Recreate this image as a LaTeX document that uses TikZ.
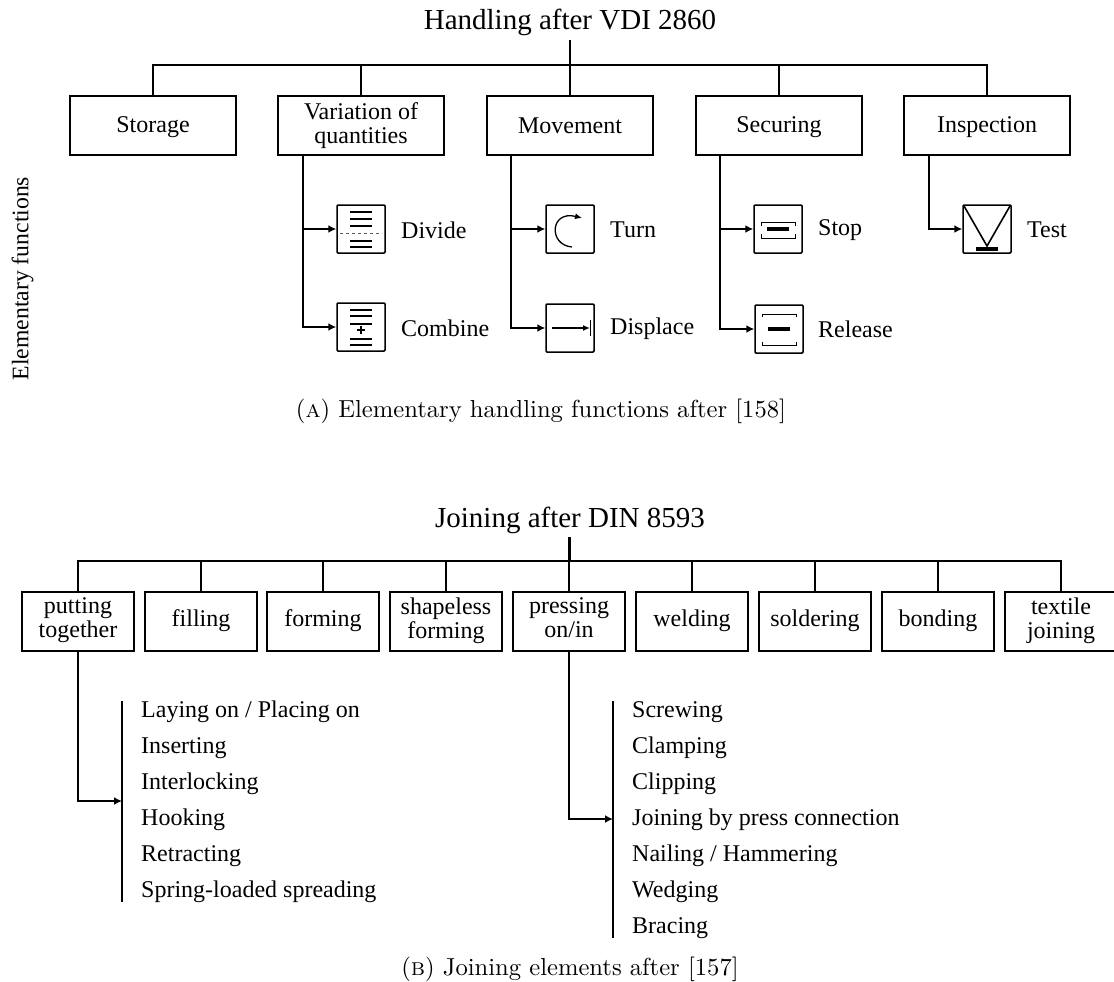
\documentclass[tikz,border=0pt]{standalone}
\usepackage{fontspec}
\newfontfamily\timesfont{Liberation Serif}
\newcommand{\funcstrut}{\rule[-4.5pt]{0pt}{24pt}}
\newcommand{\joinstrut}{\rule[-7pt]{0pt}{24pt}}
\newcommand{\itemstrut}{\rule[-6.5pt]{0pt}{27pt}}
\usetikzlibrary{arrows.meta,positioning}

\begin{document}
\begin{tikzpicture}[
    x=1pt, y=-1pt,
    heading/.style={font=\timesfont\fontsize{29}{31}\selectfont},
    funcbox/.style={draw, line width=1.8pt, minimum width=166pt, minimum height=59pt, align=center,
                    inner sep=0pt, font=\timesfont\fontsize{24}{24}\selectfont,
                    execute at begin node=\funcstrut, execute at end node=\funcstrut},
    joinbox/.style={draw, line width=1.8pt, minimum width=112pt, minimum height=59pt, align=center,
                    inner sep=0pt, font=\timesfont\fontsize{24}{24}\selectfont,
                    execute at begin node=\joinstrut, execute at end node=\joinstrut},
    iconbox/.style={draw, line width=1.5pt, minimum size=48pt, inner sep=0pt, rounded corners=1pt},
    itemtext/.style={anchor=west, inner sep=0pt, font=\timesfont\fontsize{24}{27}\selectfont,
                     execute at begin node=\itemstrut},
    captext/.style={scale=2.46, font=\fontsize{10}{12}\selectfont},
    bar/.style={line width=2pt},
    barthin/.style={line width=1.2pt, gray!70!black},
    tree/.style={line width=1.8pt},
    branch/.style={line width=1.8pt, -{Latex[length=8pt,width=8pt]}}
  ]
  \useasboundingbox (0,0) rectangle (1114,982);

  % handling heading
  \node[heading] (handling) at (570,22) {Handling after VDI 2860};
  \coordinate (handlingbus) at (570,65);

  % handling boxes
  \node[funcbox] (storage)  at (153,125.5) {Storage};
  \node[funcbox] (quantity) at (361,125.5) {Variation of\\quantities};
  \node[funcbox] (movement) at (570,125.5) {Movement};
  \node[funcbox] (securing) at (779,125.5) {Securing};
  \node[funcbox] (inspection) at (987,125.5) {Inspection};

  % handling tree
  \draw[tree] (handling.south |- 0,40) -- (handlingbus);
  \foreach \boxname in {storage,quantity,movement,securing,inspection}
    \draw[tree] (handlingbus) -| (\boxname.north);

  % icons
  \node[iconbox] (divide)   at (361,229) {};
  \node[iconbox] (combine)  at (361,327) {};
  \node[iconbox] (turn)     at (570,229) {};
  \node[iconbox] (displace) at (570,328) {};
  \node[iconbox] (stopicon) at (778,229) {};
  \node[iconbox] (release)  at (779,329) {};
  \node[iconbox] (testicon) at (987,229) {};

  % icon labels
  \node[itemtext] (dividetext)   at (401,231) {Divide};
  \node[itemtext] (combinetext)  at (401,329) {Combine};
  \node[itemtext] (turntext)     at (610,230) {Turn};
  \node[itemtext] (displacetext) at (610,327) {Displace};
  \node[itemtext] (stoptext)     at (818,228) {Stop};
  \node[itemtext] (releasetext)  at (818,330) {Release};
  \node[itemtext] (testtext)     at (1027,230) {Test};

  % branches
  \coordinate (quantityfoot)   at (303,155);
  \coordinate (movementfoot)   at (511,155);
  \coordinate (securingfoot)   at (720,155);
  \coordinate (inspectionfoot) at (929,155);
  \draw[branch] (quantityfoot) |- (divide.west);
  \draw[branch] (quantityfoot) |- (combine.west);
  \draw[branch] (movementfoot) |- (turn.west);
  \draw[branch] (movementfoot) |- (displace.west);
  \draw[branch] (securingfoot) |- (stopicon.west);
  \draw[branch] (securingfoot) |- (release.west);
  \draw[branch] (inspectionfoot) |- (testicon.west);

  % divide icon
  \begin{scope}[shift={(divide.center)}]
    \foreach \y in {-17,-10,-3,12,18} \draw[bar] (-11,\y) -- (11,\y);
    \draw[barthin, dashed, line width=0.7pt] (-21,4) -- (21,4);
  \end{scope}
  % combine icon
  \begin{scope}[shift={(combine.center)}]
    \foreach \y in {-17,-11,12,18} \draw[bar] (-11,\y) -- (11,\y);
    \draw[line width=1.2pt] (-11,-3) -- (11,-3);
    \draw[line width=1.2pt] (-4,3) -- (4,3) (0,-1) -- (0,7);
  \end{scope}
  % turn icon
  \begin{scope}[shift={(turn.center)}]
    \draw[line width=1.3pt, -{Latex[length=7pt,width=6pt]}]
      (2,18) .. controls (-22,16) and (-20,-19) .. (12,-11);
  \end{scope}
  % displace icon
  \begin{scope}[shift={(displace.center)}]
    \draw[line width=1.4pt, -{Latex[length=7pt,width=6pt]}] (-18,0) -- (20,0);
    \draw[line width=0.6pt] (20,-8) -- (20,8);
  \end{scope}
  % stop icon
  \begin{scope}[shift={(stopicon.center)}]
    \draw[line width=3.5pt] (-11,0) -- (11,0);
    \draw[line width=0.9pt] (-17,-3) -- (-17,-7) -- (17,-7) -- (17,-3);
    \draw[line width=0.9pt] (-17,5) -- (-17,9) -- (17,9) -- (17,5);
  \end{scope}
  % release icon
  \begin{scope}[shift={(release.center)}]
    \draw[line width=3.5pt] (-11,0) -- (11,0);
    \draw[line width=0.9pt] (-17,-12) -- (-17,-15) -- (17,-15) -- (17,-12);
    \draw[line width=0.9pt] (-17,13) -- (-17,16) -- (17,16) -- (17,13);
  \end{scope}
  % test icon
  \begin{scope}[shift={(testicon.center)}]
    \draw[line width=1.6pt] (-23,-23) -- (0,17) -- (23,-23);
    \draw[line width=4pt] (-11,20) -- (11,20);
  \end{scope}

  % side label and first caption
  \node[rotate=90, font=\timesfont\fontsize{23.7}{26}\selectfont] (elementary) at (22.5,278.5) {Elementary functions};
  \node[captext] (captiona) at (541,411) {(\textsc{a}) Elementary handling functions after [158]};

  % joining heading
  \node[heading] (joining) at (570,520) {Joining after DIN 8593};
  \coordinate (joiningbus) at (569,561);

  % joining boxes
  \node[joinbox] (putting)   at (78,621.5)  {putting\\together};
  \node[joinbox] (filling)   at (201,621.5) {filling};
  \node[joinbox] (forming)   at (323,621.5) {forming};
  \node[joinbox] (shapeless) at (446,621.5) {shapeless\\forming};
  \node[joinbox] (pressing)  at (569,621.5) {pressing\\on/in};
  \node[joinbox] (welding)   at (692,621.5) {welding};
  \node[joinbox] (soldering) at (815,621.5) {soldering};
  \node[joinbox] (bonding)   at (938,621.5) {bonding};
  \node[joinbox] (textile)   at (1061,621.5) {textile\\joining};

  % joining tree
  \draw[line width=3pt] (joining.south -| joiningbus) -- (joiningbus);
  \foreach \boxname in {putting,filling,forming,shapeless,pressing,welding,soldering,bonding,textile}
    \draw[tree] (joiningbus) -| (\boxname.north);

  % element lists
  \coordinate (puttingtop) at (122,701);
  \coordinate (puttingend) at (122,902);
  \coordinate (puttingtip) at (122,801);
  \coordinate (pressingtop) at (613,701);
  \coordinate (pressingend) at (613,938);
  \coordinate (pressingtip) at (613,819);
  \draw[tree] (puttingtop) -- (puttingend);
  \draw[tree] (pressingtop) -- (pressingend);
  \draw[branch] (putting.south) |- (puttingtip);
  \draw[branch] (pressing.south) |- (pressingtip);

  \foreach \y/\itemname in {710/{Laying on / Placing on},746/Inserting,782/Interlocking,818/Hooking,854/Retracting,890/Spring-loaded spreading}
    \node[itemtext] at (141,\y) {\itemname};
  \foreach \y/\itemname in {710/Screwing,746/Clamping,782/Clipping,818/Joining by press connection,854/{Nailing / Hammering},890/Wedging,926/Bracing}
    \node[itemtext] at (632,\y) {\itemname};

  \node[captext] (captionb) at (570,969) {(\textsc{b}) Joining elements after [157]};
\end{tikzpicture}
\end{document}
